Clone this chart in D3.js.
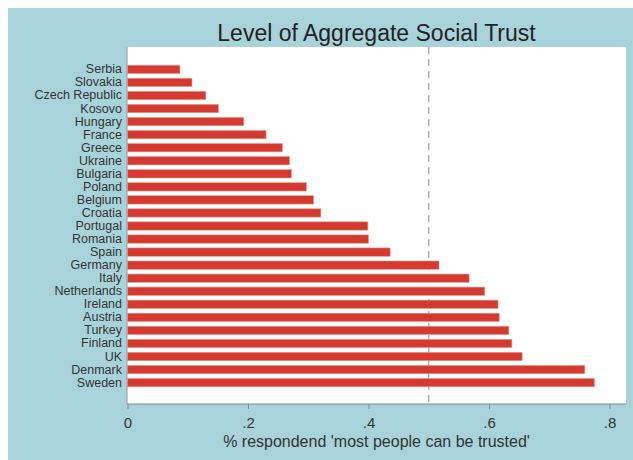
<!DOCTYPE html>
<html>
<head>
<meta charset="utf-8">
<script src="https://cdn.jsdelivr.net/npm/d3@7"></script>
<style>
  body { margin: 0; background: #fff; }
  text { font-family: "Liberation Sans", Arial, sans-serif; }
</style>
</head>
<body>
<svg width="633" height="460"></svg>
<script>
// data
var countries = ["Serbia", "Slovakia", "Czech Republic", "Kosovo", "Hungary", "France", "Greece",
  "Ukraine", "Bulgaria", "Poland", "Belgium", "Croatia", "Portugal", "Romania", "Spain", "Germany",
  "Italy", "Netherlands", "Ireland", "Austria", "Turkey", "Finland", "UK", "Denmark", "Sweden"];
var trust = [0.087, 0.107, 0.130, 0.151, 0.193, 0.230, 0.257, 0.269, 0.272, 0.297, 0.309, 0.321,
  0.399, 0.400, 0.436, 0.517, 0.567, 0.593, 0.615, 0.617, 0.633, 0.638, 0.655, 0.759, 0.775];
var xTicks = [0, 0.2, 0.4, 0.6, 0.8];
var refLine = 0.5;
var title = "Level of Aggregate Social Trust";
var xTitle = "% respondend 'most people can be trusted'";

function main(){
    var svg = d3.select("svg");
    var data = countries.map(function(c, i){ return {name: c, value: trust[i]}; });

    // outer blue background (white strip at top and left)
    svg.append("rect").attr("x", 8).attr("y", 8).attr("width", 625).attr("height", 452)
        .attr("fill", "#a9d3da");

    // plot region
    var left = 127, right = 626, top = 47, bottom = 404;
    svg.append("rect").attr("x", left).attr("y", top)
        .attr("width", right - left).attr("height", bottom - top)
        .attr("fill", "#ffffff");

    // Scales
    var xScale = d3.scaleLinear().domain([0, 0.8]).range([127.5, 609.5]);
    var yScale = d3.scaleBand().domain(countries).range([65.2, 386.8]).paddingInner(0.36);

    // Title
    svg.append("text")
        .attr("x", (left + right) / 2)
        .attr("y", 41)
        .attr("text-anchor", "middle")
        .attr("font-size", "23px")
        .attr("fill", "#222")
        .text(title);

    // reference line
    svg.append("line")
        .attr("x1", xScale(refLine)).attr("x2", xScale(refLine))
        .attr("y1", top).attr("y2", bottom)
        .attr("stroke", "#b5b1ad").attr("stroke-width", 1.5)
        .attr("stroke-dasharray", "7,5");

    // Bars
    svg.append("g").selectAll("rect").data(data).enter().append("rect")
        .attr("x", xScale(0))
        .attr("y", function(d){ return yScale(d.name); })
        .attr("width", function(d){ return xScale(d.value) - xScale(0); })
        .attr("height", yScale.bandwidth())
        .attr("fill", "#d43a2f")
        .attr("stroke", "#eb9c94").attr("stroke-width", 0.6);

    // y axis (category labels)
    var yAxis = svg.append("g")
        .attr("transform", "translate(" + left + ",0)")
        .call(d3.axisLeft(yScale).tickSize(0).tickPadding(5));
    yAxis.select(".domain").attr("stroke", "#8a9a9d").attr("d", "M0," + top + "V" + bottom);
    yAxis.selectAll("text").attr("font-size", "12.5px").attr("fill", "#333")
        .attr("font-family", "Liberation Sans, Arial, sans-serif");

    // x axis
    var xAxis = svg.append("g")
        .attr("transform", "translate(0," + bottom + ")")
        .call(d3.axisBottom(xScale).tickValues(xTicks).tickSize(5).tickPadding(8)
            .tickFormat(function(d){ return d === 0 ? "0" : d3.format(".1f")(d).replace(/^0/, ""); }));
    xAxis.select(".domain").attr("stroke", "#7f8c8f").attr("d", "M" + left + ",0H" + right);
    xAxis.selectAll(".tick line").attr("stroke", "#7f8c8f");
    xAxis.selectAll("text").attr("font-size", "15px").attr("fill", "#333")
        .attr("font-family", "Liberation Sans, Arial, sans-serif");

    // x axis title
    svg.append("text")
        .attr("x", (left + right) / 2)
        .attr("y", 447)
        .attr("text-anchor", "middle")
        .attr("font-size", "16px")
        .attr("fill", "#333")
        .text(xTitle);
}
main();
</script>
</body>
</html>
